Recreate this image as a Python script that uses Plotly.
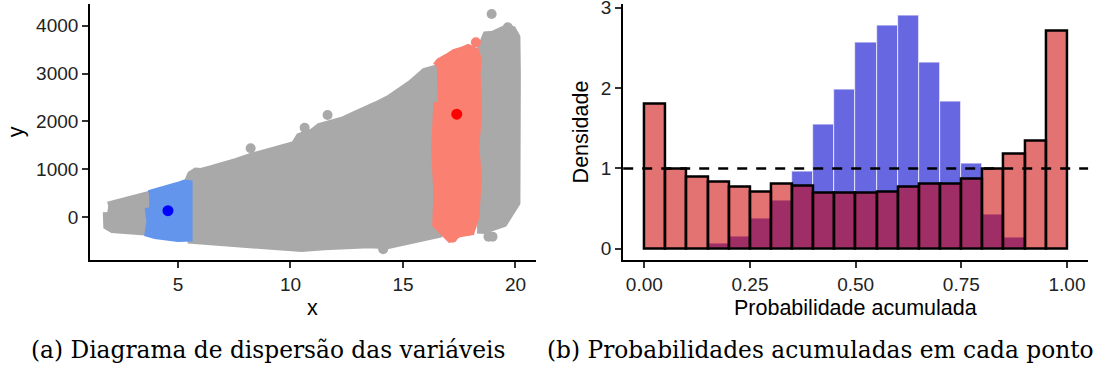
import plotly.graph_objects as go

W, H = 1097, 373

# ---------------- Panel (a): scatter cloud (outline of edge-point centres) ----------------
gray_a_x = [1.90, 2.20, 2.50, 3.00, 3.50, 3.78, 3.78, 3.00, 2.44, 2.10, 1.88, 1.86]
gray_a_y = [230, 270, 300, 360, 430, 460, -300, -270, -257, -240, -180, 100]

gray_b_x = [5.44, 5.60, 5.80, 6.00, 6.50, 7.00, 7.30, 7.62, 8.20, 8.79, 9.30, 9.83, 10.20,
            10.42, 11.00, 11.31, 11.80, 12.35, 12.80, 13.24, 13.83, 14.42, 14.90, 15.39,
            15.98, 16.55, 16.55, 16.00, 15.50, 15.00, 14.30, 13.50, 12.50, 11.50, 10.50,
            9.80, 9.00, 8.00, 7.00, 6.20, 5.44]
gray_b_y = [700, 880, 940, 930, 990, 1040, 1080, 1144, 1240, 1317, 1390, 1457, 1500,
            1666, 1760, 1875, 1930, 2013, 2110, 2189, 2327, 2467, 2610, 2781,
            3025, 3100, -350, -400, -470, -520, -580, -560, -560, -600, -640,
            -620, -590, -560, -540, -520, -460]

gray_c_x = [18.30, 18.42, 18.72, 19.00, 19.20, 19.60, 19.85, 20.02, 20.04, 20.04, 20.02,
            19.46, 19.00, 18.60, 18.30]
gray_c_y = [3300, 3477, 3791, 3800, 3850, 3931, 3900, 3757, 3000, 1000, 300,
            -119, -200, -260, -250]

gray_out_x = [18.94, 8.23, 10.63, 11.65, 14.12, 18.80, 18.98, 19.66]
gray_out_y = [4244, 1436, 1868, 2133, -676, -411, -411, 3965]

blue_band_x = [3.72, 4.00, 4.50, 5.00, 5.30, 5.45, 5.45, 5.40, 5.45, 5.00, 4.50, 4.00,
               3.72, 3.80, 3.72]
blue_band_y = [470, 500, 560, 640, 690, 680, 300, -100, -420, -430, -410, -370,
               -330, -100, 200]

salmon_band_x = [16.50, 16.64, 17.00, 17.30, 17.68, 17.90, 18.20, 18.30, 18.25, 18.32,
                 18.20, 18.30, 18.20, 18.00, 17.50, 17.09, 16.70, 16.50, 16.55, 16.45, 16.55]
salmon_band_y = [3150, 3234, 3330, 3420, 3477, 3520, 3450, 3300, 3000, 2200,
                 1500, 800, 0, -293, -330, -433, -250, -150, 500, 1400, 2400]

salmon_out_x = [18.24, 17.20]
salmon_out_y = [3652, -432]

blue_point = (4.556, 132)
red_point = (17.39, 2150)

x_ticks_a = [5, 10, 15, 20]
y_ticks_a = [0, 1000, 2000, 3000, 4000]

# ---------------- Panel (b): histograms of accumulated probabilities ----------------
bin_centers = [0.025, 0.075, 0.125, 0.175, 0.225, 0.275, 0.325, 0.375, 0.425, 0.475,
               0.525, 0.575, 0.625, 0.675, 0.725, 0.775, 0.825, 0.875, 0.925, 0.975]
blue_density = [0, 0, 0, 0.058, 0.154, 0.369, 0.593, 0.958, 1.539, 1.975,
                2.560, 2.776, 2.905, 2.320, 1.834, 1.054, 0.419, 0.137, 0, 0]
red_density = [1.805, 0.992, 0.900, 0.834, 0.776, 0.710, 0.810, 0.784, 0.693, 0.700,
               0.693, 0.710, 0.768, 0.805, 0.805, 0.867, 0.992, 1.178, 1.349, 2.714]
x_ticks_b = [0, 0.25, 0.5, 0.75, 1.0]
x_tick_text_b = ["0.00", "0.25", "0.50", "0.75", "1.00"]
y_ticks_b = [0, 1, 2, 3]

GRAY = "#A9A9A9"
CORNFLOWER = "#6495ED"
SALMON = "#FA8072"
PT_W = 9

fig = go.Figure()


def band(xs, ys, col):
    fig.add_trace(go.Scatter(x=xs, y=ys, mode="lines", fill="toself", fillcolor=col,
                             line=dict(color=col, width=PT_W), hoverinfo="skip",
                             showlegend=False, xaxis="x", yaxis="y"))


band(gray_a_x, gray_a_y, GRAY)
band(gray_b_x, gray_b_y, GRAY)
band(gray_c_x, gray_c_y, GRAY)
fig.add_trace(go.Scatter(x=gray_out_x, y=gray_out_y, mode="markers",
                         marker=dict(color=GRAY, size=10), showlegend=False,
                         xaxis="x", yaxis="y"))
band(blue_band_x, blue_band_y, CORNFLOWER)
band(salmon_band_x, salmon_band_y, SALMON)
fig.add_trace(go.Scatter(x=salmon_out_x, y=salmon_out_y, mode="markers",
                         marker=dict(color=SALMON, size=10), showlegend=False,
                         xaxis="x", yaxis="y"))
fig.add_trace(go.Scatter(x=[blue_point[0]], y=[blue_point[1]], mode="markers",
                         marker=dict(color="#0000FF", size=11), showlegend=False,
                         xaxis="x", yaxis="y"))
fig.add_trace(go.Scatter(x=[red_point[0]], y=[red_point[1]], mode="markers",
                         marker=dict(color="#FF0000", size=11), showlegend=False,
                         xaxis="x", yaxis="y"))

# histograms
fig.add_trace(go.Bar(x=bin_centers, y=blue_density, width=0.05,
                     marker=dict(color="rgb(103,103,225)",
                                 line=dict(color="rgba(255,255,255,0.6)", width=1.2)),
                     showlegend=False, xaxis="x2", yaxis="y2"))
fig.add_trace(go.Bar(x=bin_centers, y=red_density, width=0.05,
                     marker=dict(color="rgba(204,0,0,0.55)",
                                 line=dict(color="black", width=2.5)),
                     showlegend=False, xaxis="x2", yaxis="y2"))


def px_x(p):
    return p / W


def px_y(p):
    return 1 - p / H


TICKFONT = dict(family="Liberation Sans, Arial, sans-serif", size=19, color="#222222")
TITLEFONT = dict(family="Liberation Sans, Arial, sans-serif", size=21.5, color="#000000")

axis_common = dict(showline=True, linecolor="black", linewidth=2, ticks="outside",
                   ticklen=6, tickwidth=1.5, tickcolor="#333333", showgrid=False,
                   zeroline=False, tickfont=TICKFONT, fixedrange=True,
                   automargin=False)

y_dom = [px_y(260), px_y(3.7)]

fig.update_layout(
    width=W, height=H, margin=dict(l=0, r=0, t=0, b=0, autoexpand=False),
    paper_bgcolor="white", plot_bgcolor="white", barmode="overlay", bargap=0,
    xaxis=dict(domain=[px_x(90.2), px_x(535.5)], range=[1.1, 20.89],
               tickvals=x_ticks_a, anchor="y", **axis_common),
    yaxis=dict(domain=y_dom, range=[-899, 4460], tickvals=y_ticks_a, anchor="x",
               **axis_common),
    xaxis2=dict(domain=[px_x(623.2), px_x(1088.1)], range=[-0.05, 1.05],
                tickvals=x_ticks_b, ticktext=x_tick_text_b, anchor="y2", **axis_common),
    yaxis2=dict(domain=y_dom, range=[-0.14, 3.05], tickvals=y_ticks_b, anchor="x2",
                ticklabeloverflow="allow", **axis_common),
    shapes=[dict(type="line", xref="x2 domain", yref="y2", x0=0, x1=1, y0=1, y1=1,
                 line=dict(color="black", width=2.5, dash="10px,9px"), layer="above")],
)

ann = [
    dict(text="x", x=px_x(312.9), y=px_y(308), font=TITLEFONT),
    dict(text="y", x=px_x(15.5), y=px_y(131.7), font=TITLEFONT, textangle=-90),
    dict(text="Probabilidade acumulada", x=px_x(855.6), y=px_y(308), font=TITLEFONT),
    dict(text="Densidade", x=px_x(580.7), y=px_y(131.7), font=TITLEFONT, textangle=-90),
    dict(text="(a) Diagrama de dispersão das variáveis", x=px_x(267.5), y=px_y(349),
         font=dict(family="DejaVu Serif, serif", size=23.3, color="black")),
    dict(text="(b) Probabilidades acumuladas em cada ponto", x=px_x(820), y=px_y(349),
         font=dict(family="DejaVu Serif, serif", size=23.3, color="black")),
]
for a in ann:
    a.update(xref="paper", yref="paper", showarrow=False, xanchor="center", yanchor="middle")
fig.update_layout(annotations=ann)

fig.write_html("out.html")
